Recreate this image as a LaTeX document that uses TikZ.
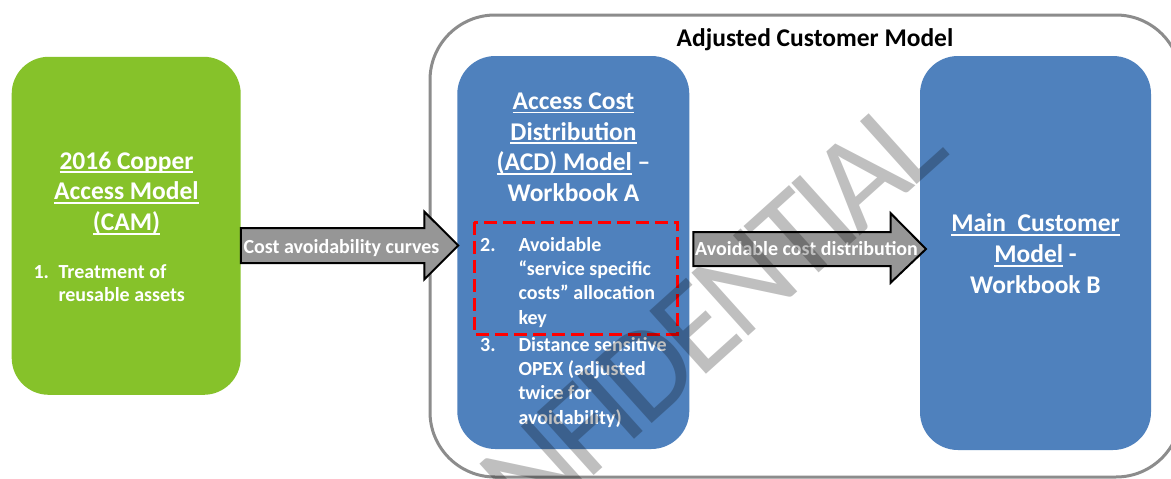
\documentclass[tikz,border=0pt]{standalone}
\usepackage{fontspec}
\setmainfont{Carlito}
\newfontfamily\wmfont[LetterSpace=-6.0]{Carlito}
\usetikzlibrary{calc}
\definecolor{camgreen}{RGB}{134,194,42}
\definecolor{boxblue}{RGB}{79,129,189}
\definecolor{arrgray}{RGB}{150,150,150}
\definecolor{framegray}{RGB}{140,140,140}
\definecolor{dashred}{RGB}{255,0,0}
\newcommand{\myul}[1]{\begingroup\setbox0=\hbox{#1}\rlap{\vrule height -2.4pt depth 4.1pt width \wd0}\box0\endgroup}
\begin{document}
\begin{tikzpicture}[x=1pt,y=-1pt,
  modelbox/.style={rounded corners=38pt, draw=none, inner sep=0pt},
  titletext/.style={text=white, font=\bfseries\fontsize{25.5}{30.7}\selectfont, align=center, inner sep=0pt, anchor=base},
  itemtext/.style={text=white, font=\bfseries\fontsize{20}{24.1}\selectfont, align=left, inner sep=0pt, anchor=base west},
  blockarrow/.style={fill=arrgray, draw=black, line width=2pt, line join=miter},
  arrowlabel/.style={text=white, font=\bfseries\fontsize{20}{24}\selectfont, inner sep=0pt, anchor=base west}
]
\useasboundingbox (0,0) rectangle (1171,479);
\fill[white] (0,0) rectangle (1171,479);

% outer frame
\node[draw=framegray, line width=3pt, rounded corners=65pt, minimum width=751pt, minimum height=462pt, inner sep=0pt] (acm) at (805.5,246) {};
\node[font=\bfseries\fontsize{25.5}{30}\selectfont, inner sep=0pt, anchor=base] (acmtitle) at (815,46) {Adjusted Customer Model};

% boxes
\node[modelbox, fill=camgreen, minimum width=229pt, minimum height=338pt, rounded corners=37pt] (cam) at (126.2,225.8) {};
\node[modelbox, fill=boxblue, minimum width=232pt, minimum height=393pt] (acd) at (573.3,252.5) {};
\node[modelbox, fill=boxblue, minimum width=231pt, minimum height=394pt] (mcm) at (1035.5,253) {};

% CAM text (anchor = baseline of last line)
\node[titletext] (camt) at (126.5,230.4) {\myul{2016 Copper}\\\myul{Access Model}\\\myul{(CAM)}};
\node[itemtext] (n1) at (33.3,278) {1.};
\node[itemtext, font=\bfseries\fontsize{20}{23.7}\selectfont] (i1) at (58.3,301.7) {Treatment of\\reusable assets};

% ACD text
\node[titletext] (acdt) at (573.5,201.4) {\myul{Access Cost}\\\myul{Distribution}\\\myul{(ACD) Model} --\\Workbook A};
\node[itemtext] (n2) at (480,251.7) {2.};
\node[itemtext] (i2) at (518.3,324) {Avoidable\\“service specific\\costs” allocation\\key};
\node[itemtext] (n3) at (480,351.7) {3.};
\node[itemtext] (i3) at (518.3,424) {Distance sensitive\\OPEX (adjusted\\twice for\\avoidability)};
\draw[dashred, line width=3pt, dash pattern=on 13pt off 6pt] (474,222.3) rectangle (677.7,334) coordinate (rbx);

% MCM text
\node[titletext] (mcmt) at (1035.5,293.1) {\myul{Main\ \ Customer}\\\myul{Model} -\\Workbook B};

% arrows
\coordinate (a1s) at (cam.east |- 0,245.5);
\coordinate (a1t) at (458.3,245.5);
\draw[blockarrow] ($(a1s)+(0,-17.5)$) -- (424.3,228) -- (424.3,211.7) -- (a1t) -- (424.3,279.5) -- (424.3,263) -- ($(a1s)+(0,17.5)$) -- cycle;
\node[arrowlabel] (l1) at (243.3,253.3) {Cost avoidability curves};

\coordinate (a2s) at (693.3,249);
\coordinate (a2t) at (926,249);
\draw[blockarrow] ($(a2s)+(0,-17)$) -- (890.7,232) -- (890.7,213.3) -- (a2t) -- (890.7,282.7) -- (890.7,266) -- ($(a2s)+(0,17)$) -- cycle;
\node[arrowlabel] (l2) at (695,255) {Avoidable cost distribution};

% watermark
\node[rotate=42, anchor=base east, inner sep=0pt, text=black, text opacity=0.25, font=\wmfont\fontsize{132}{132}\selectfont] (wm) at (952,153) {CONFIDENTIAL};
\end{tikzpicture}
\end{document}
